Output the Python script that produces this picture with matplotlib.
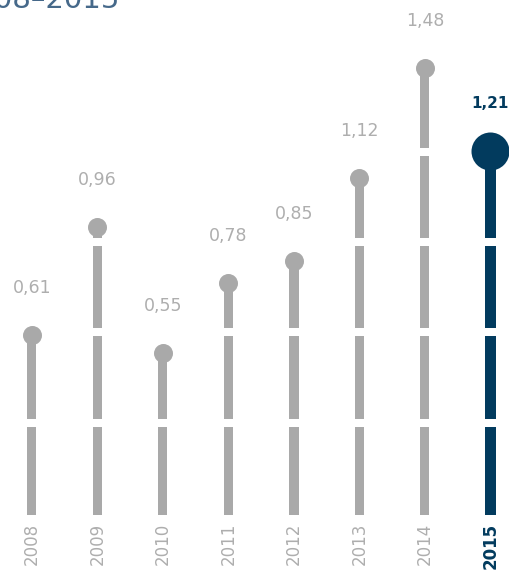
import matplotlib
matplotlib.use("Agg")
import matplotlib.pyplot as plt
import matplotlib.transforms as mtransforms
import numpy as np

years = ["2008", "2009", "2010", "2011", "2012", "2013", "2014", "2015"]
values = [0.61, 0.96, 0.55, 0.78, 0.85, 1.12, 1.48, 1.21]
labels = ["0,61", "0,96", "0,55", "0,78", "0,85", "1,12", "1,48", "1,21"]
title = "2008–2015"

GRAY = "#a9a9a9"
LABEL_GRAY = "#aeaeae"
BLUE = "#023b5e"
TITLE_C = "#46698a"

W, H = 509, 571
fig = plt.figure(figsize=(W / 100, H / 100), dpi=100)
ax = fig.add_axes([0, 0, 1, 1])
ax.set_axis_off()

# pixel -> data mapping
Y0, PPU = 522.0, 307.0          # pixel row of value 0, pixels per unit
X0, DX = 32.0, 65.5             # pixel column of first bar, spacing
ax.set_ylim((Y0 - H) / PPU, Y0 / PPU)
ax.set_xlim(-X0 / DX, (W - X0) / DX)

def py(p):
    return (Y0 - p) / PPU

x = np.arange(len(years))
base = py(515)
n = len(years)
colors = [GRAY] * (n - 1) + [BLUE]
widths = [9 / DX] * (n - 1) + [11 / DX]
vals = np.array(values)
ax.bar(x, vals - base, bottom=base, width=widths, color=colors, zorder=1)

# white breaks across the stems
for gp in (151.5, 242, 332, 422.5):
    ax.axhline(py(gp), color="white", lw=8 * 0.72, zorder=2)

# dots
ax.plot(x[:-1], vals[:-1], "o", color=GRAY, ms=19 * 0.72, mew=0, zorder=3)
ax.plot(x[-1:], vals[-1:], "o", color=BLUE, ms=38 * 0.72, mew=0, zorder=3)

# value labels
for i in range(n):
    last = i == n - 1
    ax.annotate(labels[i], (x[i], vals[i]), xytext=(0, 47 * 0.72),
                textcoords="offset points", ha="center", va="center",
                fontsize=11 if last else 12.5,
                color=BLUE if last else LABEL_GRAY,
                fontweight="bold" if last else "normal",
                family="DejaVu Sans", zorder=4)

# year labels
trans = mtransforms.blended_transform_factory(ax.transData, ax.transAxes)
for i in range(n):
    last = i == n - 1
    ax.text(x[i], (H - 523) / H, years[i], transform=trans, rotation=90,
            ha="center", va="top", fontsize=12,
            color=BLUE if last else LABEL_GRAY,
            fontweight="bold" if last else "normal", zorder=4)

# clipped title
fig.text(120 / W, (H - 8) / H, title, ha="right", va="baseline",
         fontsize=21, color=TITLE_C)

fig.savefig("out.png", dpi=100)
